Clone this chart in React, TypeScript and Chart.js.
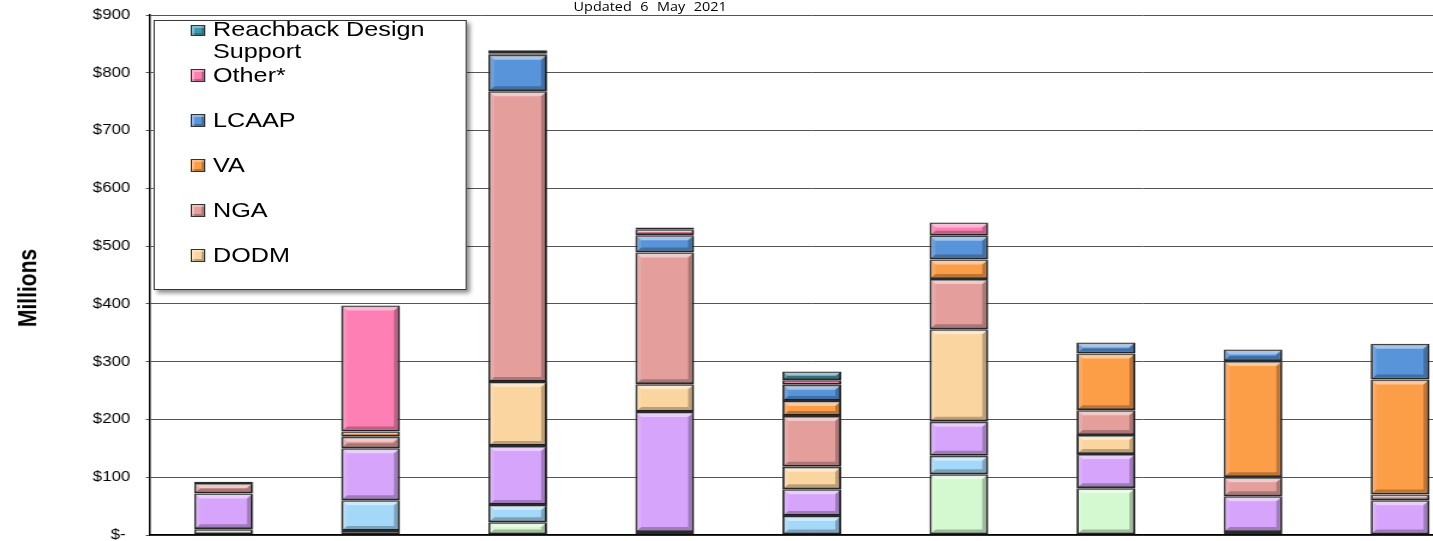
import React, { useEffect, useRef } from 'react';
import { Chart, registerables } from 'chart.js';

Chart.register(...registerables);

// ---------- data ----------
const categories = ['1', '2', '3', '4', '5', '6', '7', '8', '9'];
const seriesNames = ['Series 1', 'Series 2', 'Series 3', 'DODM', 'NGA', 'VA', 'LCAAP', 'Other*', 'Reachback Design Support'];
const seriesColors = ['#d4f8d0', '#a4d8f8', '#d6a4fb', '#fbd5a0', '#e49f9d', '#fc9d48', '#5894da', '#fd7fb3', '#3f98ac'];
const series1Values = [10, 7, 22, 5, 0, 105, 81, 5, 0];
const series2Values = [0, 53, 30, 0, 33, 32, 0, 0, 0];
const series3Values = [62, 90, 102, 208, 46, 59, 59, 62, 60];
const dodmValues = [0, 0, 111, 48, 39, 160, 33, 0, 0];
const ngaValues = [18, 20, 503, 228, 88, 87, 43, 33, 10];
const vaValues = [2, 9, 0, 0, 26, 34, 98, 201, 199];
const lcaapValues = [0, 0, 63, 30, 28, 41, 19, 20, 62];
const otherValues = [0, 218, 3, 10, 8, 23, 0, 0, 0];
const reachbackValues = [0, 0, 5, 3, 15, 0, 0, 0, 0];
const seriesValues = [series1Values, series2Values, series3Values, dodmValues, ngaValues, vaValues, lcaapValues, otherValues, reachbackValues];
const yMin = 0;
const yMax = 900;
const yStep = 100;
const titleText = 'Updated 6 May 2021';
const yAxisTitle = 'Millions';

// ---------- layout ----------
const W0 = 1228;
const H = 541;
const SX = 1.2;
const FONT = '"Liberation Sans", Arial, sans-serif';

const bevelPlugin = {
  id: 'bevel',
  afterDatasetsDraw(chart: any) {
    const ctx = chart.ctx;
    ctx.save();
    chart.data.datasets.forEach((ds: any, i: number) => {
      const meta = chart.getDatasetMeta(i);
      if (meta.hidden) return;
      meta.data.forEach((bar: any, j: number) => {
        const v = ds.data[j];
        if (v == null || v === 0) return;
        const p = bar.getProps(['x', 'y', 'base', 'width'], true);
        const inset = 1;
        const l = p.x - p.width / 2 + inset;
        const r = p.x + p.width / 2 - inset;
        const t = Math.min(p.y, p.base) + inset;
        const b = Math.max(p.y, p.base) - inset;
        const h = b - t;
        if (h <= 1) return;
        const bv = Math.min(4, h / 2, (r - l) / 2);
        const poly = (pts: number[][], fill: string) => {
          ctx.beginPath();
          ctx.moveTo(pts[0][0], pts[0][1]);
          for (let k = 1; k < pts.length; k++) ctx.lineTo(pts[k][0], pts[k][1]);
          ctx.closePath();
          ctx.fillStyle = fill;
          ctx.fill();
        };
        poly([[l, t], [r, t], [r - bv, t + bv], [l + bv, t + bv]], 'rgba(255,255,255,0.45)');
        poly([[l, b], [r, b], [r - bv, b - bv], [l + bv, b - bv]], 'rgba(0,0,0,0.25)');
        poly([[l, t], [l + bv, t + bv], [l + bv, b - bv], [l, b]], 'rgba(255,255,255,0.12)');
        poly([[r, t], [r - bv, t + bv], [r - bv, b - bv], [r, b]], 'rgba(0,0,0,0.25)');
      });
    });
    ctx.restore();
  },
};

export default function App() {
  const ref = useRef<HTMLCanvasElement>(null);

  useEffect(() => {
    const canvas = ref.current;
    if (!canvas) return;
    Chart.defaults.font.family = FONT;
    const chart = new Chart(canvas, {
      type: 'bar',
      data: {
        labels: categories,
        datasets: seriesNames.map((name, i) => ({
          label: name,
          data: seriesValues[i].map((v) => (v === 0 ? null : v)),
          backgroundColor: seriesColors[i],
          borderColor: '#2a2a2a',
          borderWidth: 1.9,
          borderSkipped: false,
          barPercentage: 0.8,
          categoryPercentage: 0.5,
        })),
      },
      options: {
        animation: false,
        responsive: false,
        devicePixelRatio: 1,
        layout: { padding: { left: 0, right: 0, top: 15, bottom: 6 } },
        plugins: {
          legend: { display: false },
          title: { display: false },
          tooltip: { enabled: false },
        },
        scales: {
          x: {
            stacked: true,
            grid: { display: false, drawTicks: false },
            ticks: { display: false },
            border: { display: true, color: '#000', width: 1.5 },
            afterFit: (s: any) => { s.height = 0; },
          },
          y: {
            stacked: true,
            min: yMin,
            max: yMax,
            ticks: {
              stepSize: yStep,
              color: '#000',
              padding: 13,
              font: { size: 14, family: FONT },
              callback: (v: any) => (Number(v) === 0 ? '$- ' : '$' + v),
            },
            grid: { color: '#555', lineWidth: 1, tickLength: 3.5, drawTicks: true },
            border: { display: true, color: '#000', width: 1.5 },
            afterFit: (s: any) => {
              s.width = 125;
              s.paddingTop = 0;
              s.paddingBottom = 0;
            },
          },
        },
      },
      plugins: [bevelPlugin],
    } as any);
    return () => chart.destroy();
  }, []);

  const legendOrder = seriesNames.map((_, i) => seriesNames.length - 1 - i);

  return (
    <div style={{ position: 'fixed', left: 0, top: 0, width: 1433, height: H, overflow: 'hidden', background: '#fff' }}>
      <div style={{ position: 'absolute', left: 0, top: 0, width: W0, height: H, transform: `scaleX(${SX})`, transformOrigin: '0 0' }}>
        <canvas ref={ref} width={W0} height={H} style={{ display: 'block', width: W0, height: H }} />
        <div style={{ position: 'absolute', left: 478, top: 0, fontFamily: '"Open Sans", sans-serif', fontSize: 12, lineHeight: '14px', wordSpacing: 4, whiteSpace: 'nowrap', color: '#000' }}>
          {titleText}
        </div>
        <div style={{ position: 'absolute', left: 22.5, top: 288, transform: 'translate(-50%, -50%) rotate(-90deg)', fontFamily: FONT, fontWeight: 'bold', fontSize: 21, whiteSpace: 'nowrap', color: '#000' }}>
          {yAxisTitle}
        </div>
        <div style={{ position: 'absolute', left: 127.5, top: 20, width: 261, height: 270, boxSizing: 'border-box', border: '1px solid #3a3a3a', background: '#fff', boxShadow: '3px 3px 4px rgba(0,0,0,0.45)', overflow: 'hidden', fontFamily: FONT, fontSize: 21, color: '#000' }}>
          {legendOrder.map((si, i) => {
            const textTop = i === 0 ? -3 : 42.7 + (i - 1) * 45;
            const markTop = i === 0 ? 4 : 47.5 + (i - 1) * 45;
            const mh = i === 0 ? 11 : 13;
            return (
              <React.Fragment key={si}>
                <div style={{ position: 'absolute', left: 30.5, top: markTop, width: 12, height: mh, boxSizing: 'border-box', border: '1px solid #333', background: seriesColors[si], boxShadow: 'inset 2px 2px 0 rgba(255,255,255,0.35), inset -2px -2px 0 rgba(0,0,0,0.25)' }} />
                <div style={{ position: 'absolute', left: 49, top: textTop, width: 205, lineHeight: '22px' }}>{seriesNames[si]}</div>
              </React.Fragment>
            );
          })}
        </div>
      </div>
    </div>
  );
}
